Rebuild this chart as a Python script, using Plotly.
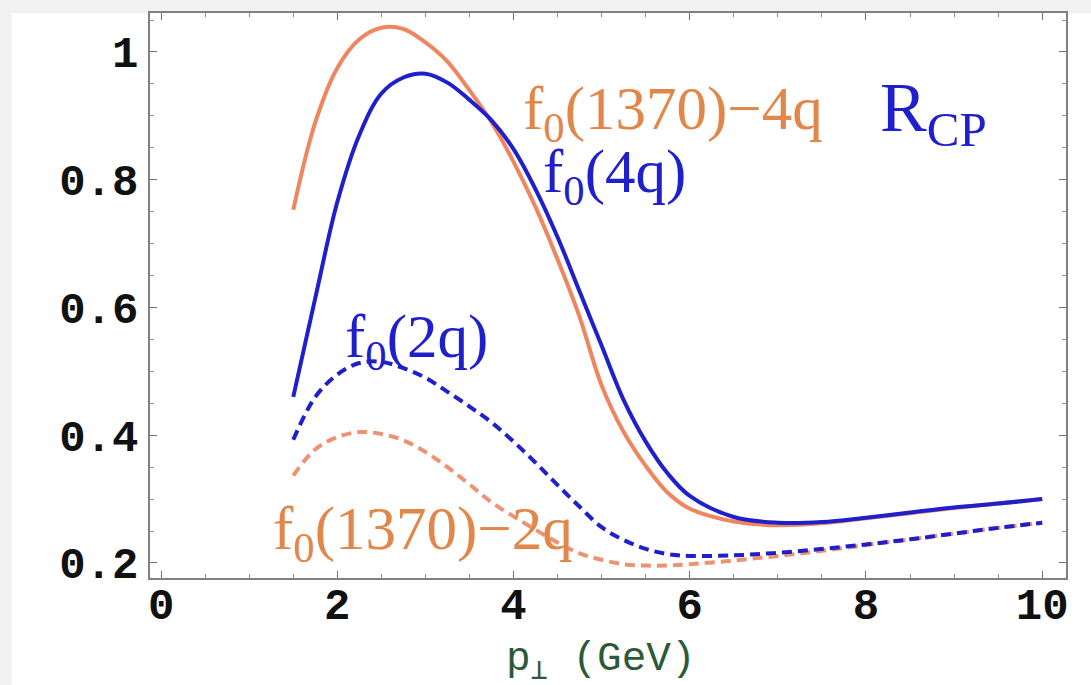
import plotly.graph_objects as go

# ---------------- data ----------------
pt = [1.5, 1.75, 2.0, 2.25, 2.5, 2.75, 3.0, 3.25, 3.5, 3.75, 4.0, 4.25, 4.5,
      4.75, 5.0, 5.25, 5.5, 5.75, 6.0, 6.5, 7.0, 7.5, 8.0, 8.5, 9.0, 9.5, 10.0]

f0_1370_4q = [0.753, 0.89, 0.975, 1.02, 1.038, 1.036, 1.015, 0.985, 0.94, 0.89,
              0.828, 0.757, 0.675, 0.585, 0.478, 0.405, 0.352, 0.31, 0.285,
              0.265, 0.259, 0.262, 0.270, 0.278, 0.286, 0.293, 0.300]

f0_4q = [0.46, 0.615, 0.765, 0.87, 0.935, 0.96, 0.966, 0.952, 0.925, 0.893,
         0.848, 0.785, 0.71, 0.625, 0.54, 0.455, 0.39, 0.34, 0.305,
         0.272, 0.263, 0.264, 0.271, 0.279, 0.287, 0.293, 0.300]

f0_2q = [0.393, 0.46, 0.495, 0.513, 0.515, 0.505, 0.49, 0.468, 0.445, 0.42,
         0.39, 0.357, 0.322, 0.288, 0.256, 0.236, 0.222, 0.214, 0.211,
         0.212, 0.216, 0.222, 0.229, 0.237, 0.246, 0.255, 0.263]

f0_1370_2q = [0.337, 0.378, 0.397, 0.405, 0.402, 0.392, 0.374, 0.35, 0.323, 0.295,
              0.273, 0.252, 0.232, 0.215, 0.205, 0.198, 0.196, 0.196, 0.198,
              0.204, 0.211, 0.219, 0.228, 0.237, 0.246, 0.255, 0.263]

x_ticks = [0, 2, 4, 6, 8, 10]
x_ticktext = ["0", "2", "4", "6", "8", "10"]
y_ticks = [0.2, 0.4, 0.6, 0.8, 1.0]
y_ticktext = ["0.2", "0.4", "0.6", "0.8", "1"]

BLUE = "#1f1fcc"
ORANGE = "#ef8660"
ORANGE_D = "#ee9274"
ORANGE_TXT = "#e2874a"

fig = go.Figure()
fig.add_trace(go.Scatter(x=pt, y=f0_1370_2q, mode="lines", line_shape="spline",
                         line=dict(color=ORANGE_D, width=4, dash="10px,6px")))
fig.add_trace(go.Scatter(x=pt, y=f0_2q, mode="lines", line_shape="spline",
                         line=dict(color=BLUE, width=4, dash="10px,6px")))
fig.add_trace(go.Scatter(x=pt, y=f0_1370_4q, mode="lines", line_shape="spline",
                         line=dict(color=ORANGE, width=4)))
fig.add_trace(go.Scatter(x=pt, y=f0_4q, mode="lines", line_shape="spline",
                         line=dict(color=BLUE, width=4)))

serif = "Liberation Serif, Times New Roman, serif"
ann = [
    dict(x=4.08, y=0.905, text="f<sub>0</sub>(1370)\u22124q", color=ORANGE_TXT, size=61),
    dict(x=8.14, y=0.905, text="R<sub>CP</sub>", color=BLUE, size=70),
    dict(x=4.31, y=0.806, text="f<sub>0</sub>(4q)", color=BLUE, size=61),
    dict(x=2.06, y=0.548, text="f<sub>0</sub>(2q)", color=BLUE, size=61),
    dict(x=1.25, y=0.247, text="f<sub>0</sub>(1370)\u22122q", color=ORANGE_TXT, size=61),
]
for a in ann:
    fig.add_annotation(x=a["x"], y=a["y"], xref="x", yref="y", text=a["text"],
                       showarrow=False, xanchor="left", yanchor="middle",
                       font=dict(family=serif, size=a["size"], color=a["color"]))

mono = "Liberation Mono, Courier New, monospace"

# x-axis title placed below the tick labels
fig.add_annotation(x=0.492, y=-0.148, xref="paper", yref="paper",
                   text="p<sub>\u22a5</sub> (GeV)", showarrow=False,
                   xanchor="center", yanchor="middle",
                   font=dict(family=mono, size=41, color="#2c5a36"))

# gray strips at the left and top edge of the picture
fig.add_shape(type="rect", xref="paper", yref="paper", x0=-0.17, x1=-0.151,
              y0=-0.5, y1=1.03, fillcolor="#f1f1f1", line_width=0, layer="below")
fig.add_shape(type="rect", xref="paper", yref="paper", x0=-0.17, x1=1.03,
              y0=1.0, y1=1.03, fillcolor="#f1f1f1", line_width=0, layer="below")

axis_common = dict(showgrid=False, zeroline=False, showline=True, linecolor="#808080",
                   linewidth=1.5, mirror="allticks", ticks="inside", ticklen=7,
                   tickcolor="#707070", tickwidth=1.2, automargin=False,
                   tickfont=dict(family=mono, size=44, color="#111111", weight="bold"))

fig.update_layout(
    width=1091, height=685, autosize=False,
    margin=dict(l=150, r=25, t=13, b=107),
    paper_bgcolor="white", plot_bgcolor="white",
    showlegend=False,
    xaxis=dict(range=[-0.126, 10.27], tickvals=x_ticks, ticktext=x_ticktext,
               minor=dict(ticks="inside", dtick=0.5, tick0=0, ticklen=4,
                          tickcolor="#909090", tickwidth=1),
               ticklabelstandoff=-14,
               **axis_common),
    yaxis=dict(range=[0.1765, 1.061], tickvals=y_ticks, ticktext=y_ticktext,
               minor=dict(ticks="inside", dtick=0.05, tick0=0, ticklen=4,
                          tickcolor="#909090", tickwidth=1),
               ticklabelstandoff=1,
               **axis_common),
)

fig.write_html("out.html")
